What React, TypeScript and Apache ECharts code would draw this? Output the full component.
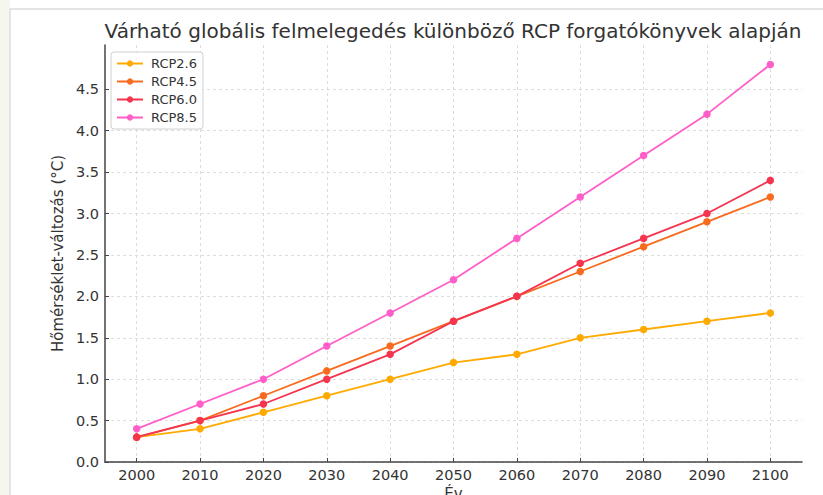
import React, { useEffect, useRef } from "react";
import * as echarts from "echarts";

const years = [2000, 2010, 2020, 2030, 2040, 2050, 2060, 2070, 2080, 2090, 2100];
const rcp26 = [0.3, 0.4, 0.6, 0.8, 1.0, 1.2, 1.3, 1.5, 1.6, 1.7, 1.8];
const rcp45 = [0.3, 0.5, 0.8, 1.1, 1.4, 1.7, 2.0, 2.3, 2.6, 2.9, 3.2];
const rcp60 = [0.3, 0.5, 0.7, 1.0, 1.3, 1.7, 2.0, 2.4, 2.7, 3.0, 3.4];
const rcp85 = [0.4, 0.7, 1.0, 1.4, 1.8, 2.2, 2.7, 3.2, 3.7, 4.2, 4.8];
const seriesNames = ["RCP2.6", "RCP4.5", "RCP6.0", "RCP8.5"];
const seriesColors = ["#ffaa00", "#f86b1e", "#f5344f", "#ff5ec8"];
const yTicks = [0, 0.5, 1.0, 1.5, 2.0, 2.5, 3.0, 3.5, 4.0, 4.5];
const titleText = "Várható globális felmelegedés különböző RCP forgatókönyvek alapján";
const xName = "Év";
const yName = "Hőmérséklet-változás (°C)";

const FONT = "DejaVu Sans";

export default function App() {
  const ref = useRef<HTMLDivElement>(null);
  useEffect(() => {
    if (!ref.current) return;
    const chart = echarts.init(ref.current, null, { renderer: "svg" });
    const allData = [rcp26, rcp45, rcp60, rcp85];
    chart.setOption({
      animation: false,
      backgroundColor: "#ffffff",
      textStyle: { fontFamily: FONT },
      graphic: [
        { type: "rect", z: -10, shape: { x: 0, y: 0, width: 10, height: 495 }, style: { fill: "#f5f7ee" } },
        { type: "rect", z: -9, shape: { x: 10, y: 9, width: 820, height: 500 }, style: { fill: "#ffffff", stroke: "#e4e4e4", lineWidth: 2 } },
        {
          type: "text",
          x: 453,
          y: 31,
          style: {
            text: titleText,
            fontFamily: FONT,
            fontSize: 20,
            fill: "#333333",
            textAlign: "center",
            textVerticalAlign: "middle",
          },
        },
      ],
      legend: {
        orient: "vertical",
        left: 111,
        top: 52,
        padding: [5, 6, 5, 5],
        itemGap: 5,
        itemWidth: 26,
        itemHeight: 8,
        backgroundColor: "rgba(255,255,255,0.85)",
        borderColor: "#d0d0d0",
        borderWidth: 1,
        borderRadius: 3,
        textStyle: { fontFamily: FONT, fontSize: 13, color: "#333333", padding: [0, 0, 0, 3] },
        data: seriesNames,
      },
      grid: { left: 105, right: 21, top: 45, bottom: 33, containLabel: false, outerBoundsMode: "none" },
      xAxis: {
        type: "value",
        min: 1995,
        max: 2105,
        name: xName,
        nameLocation: "middle",
        nameGap: 22,
        nameTextStyle: { fontFamily: FONT, fontSize: 15, color: "#333333" },
        axisLine: { show: true, lineStyle: { color: "#444444", width: 1.5 } },
        axisTick: { show: true, inside: true, length: 4, lineStyle: { color: "#444444" }, customValues: years },
        axisLabel: {
          customValues: years,
          fontFamily: FONT,
          fontSize: 14.5,
          color: "#333333",
          margin: 5,
          formatter: (v: number) => String(v),
        },
        splitLine: { show: true, lineStyle: { color: "#d4d4d4", type: [3, 3], width: 0.8 } },
      },
      yAxis: {
        type: "value",
        min: 0,
        max: 5.035,
        name: yName,
        nameLocation: "middle",
        nameGap: 33,
        nameRotate: 90,
        nameTextStyle: { fontFamily: FONT, fontSize: 15, color: "#333333" },
        axisLine: { show: true, lineStyle: { color: "#444444", width: 1.5 } },
        axisTick: { show: true, inside: true, length: 4, lineStyle: { color: "#444444" }, customValues: yTicks },
        axisLabel: {
          customValues: yTicks,
          fontFamily: FONT,
          fontSize: 14.5,
          color: "#333333",
          margin: 6,
          formatter: (v: number) => v.toFixed(1),
        },
        splitLine: { show: true, lineStyle: { color: "#d4d4d4", type: [3, 3], width: 0.8 } },
      },
      series: seriesNames.map((name, i) => ({
        name,
        type: "line",
        data: years.map((y, j) => [y, allData[i][j]]),
        symbol: "circle",
        symbolSize: 7.5,
        color: seriesColors[i],
        lineStyle: { width: 1.8, color: seriesColors[i] },
        itemStyle: { color: seriesColors[i] },
      })),
    });
    return () => chart.dispose();
  }, []);
  return <div ref={ref} style={{ position: "absolute", left: 0, top: 0, width: 823, height: 495 }} />;
}
